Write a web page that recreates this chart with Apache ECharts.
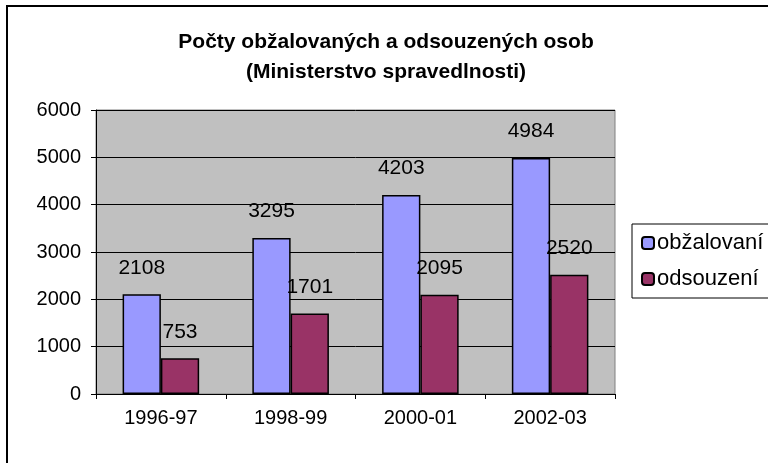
<!DOCTYPE html>
<html><head><meta charset="utf-8">
<script src="https://cdn.jsdelivr.net/npm/echarts@6/dist/echarts.min.js"></script>
<style>html,body{margin:0;padding:0;background:#fff}#c{width:768px;height:463px}</style>
</head><body><div id="c"></div>
<script>
const categories = ['1996-97', '1998-99', '2000-01', '2002-03'];
const obzalovani = [2108, 3295, 4203, 4984];
const odsouzeni = [753, 1701, 2095, 2520];
const seriesNames = ['obžalovaní', 'odsouzení'];
const yTicks = {min: 0, max: 6000, interval: 1000};
const titleText = 'Počty obžalovaných a odsouzených osob\n(Ministerstvo spravedlnosti)';

const font = '"Liberation Sans", Arial, sans-serif';
const chart = echarts.init(document.getElementById('c'), null, {renderer: 'canvas'});
const labelCfg = {show: true, position: 'top', distance: 16, color: '#000', fontSize: 21, fontFamily: font};
chart.setOption({
  animation: false,
  backgroundColor: '#fff',
  graphic: [{type: 'rect', shape: {x: 7, y: 6, width: 900, height: 600}, style: {fill: 'none', stroke: '#000', lineWidth: 2}, z: -1}],
  title: {
    text: titleText, left: 381, top: 22, textAlign: 'center',
    textStyle: {fontFamily: font, fontSize: 21, fontWeight: 'bold', color: '#000', lineHeight: 30}
  },
  legend: {
    orient: 'vertical', left: 632, top: 224,
    padding: [8, 40, 8, 9], itemGap: 14,
    itemWidth: 12, itemHeight: 12,
    borderColor: '#000', borderWidth: 1, backgroundColor: '#fff',
    textStyle: {fontFamily: font, fontSize: 22, color: '#000', padding: [0, 0, 0, -2]},
    data: seriesNames
  },
  grid: {left: 96, top: 110, right: 153, bottom: 69, show: true, backgroundColor: '#C0C0C0', borderColor: '#808080', borderWidth: 1},
  xAxis: {
    type: 'category', data: categories,
    axisLine: {lineStyle: {color: '#000', width: 1}},
    axisTick: {show: true, alignWithLabel: false, length: 5, lineStyle: {color: '#000'}},
    axisLabel: {fontFamily: font, fontSize: 20, color: '#000', margin: 14}
  },
  yAxis: {
    type: 'value', min: yTicks.min, max: yTicks.max, interval: yTicks.interval,
    axisLine: {show: true, lineStyle: {color: '#000', width: 1}},
    axisTick: {show: true, length: 5, lineStyle: {color: '#000'}},
    splitLine: {lineStyle: {color: '#000', width: 1}},
    axisLabel: {fontFamily: font, fontSize: 20, color: '#000', margin: 15, formatter: v => String(v)}
  },
  series: [
    {name: seriesNames[0], type: 'bar', data: obzalovani, barGap: '0%', barCategoryGap: '41%',
     itemStyle: {color: '#9999FF', borderColor: '#000', borderWidth: 1.5}, label: labelCfg},
    {name: seriesNames[1], type: 'bar', data: odsouzeni,
     itemStyle: {color: '#993366', borderColor: '#000', borderWidth: 1.5}, label: labelCfg}
  ]
});
</script></body></html>
